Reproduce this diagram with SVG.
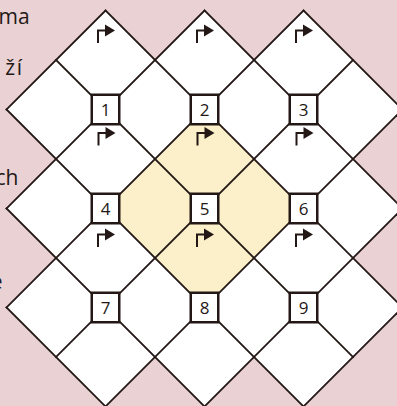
<svg xmlns="http://www.w3.org/2000/svg" width="397" height="406" viewBox="0 0 397 406">
<defs>
<style>
.ln{stroke:#231815;stroke-width:1.8;fill:none;stroke-linecap:square}
.box{fill:#ffffff;stroke:#231815;stroke-width:2.5}
.num{font-family:"Open Sans","Noto Sans",sans-serif;font-size:17px;fill:#231815;text-anchor:middle}
.side{font-family:"Open Sans","Noto Sans",sans-serif;font-size:21px;fill:#231815}
.stem{stroke:#231815;stroke-width:2;fill:none}
.tri{fill:#231815}
</style>
<g id="flag">
<path class="stem" d="M-7.5 12.5V0H1"/>
<polygon class="tri" points="-0.5,-6 -0.5,6 9.5,0"/>
</g>
</defs>
<rect x="0" y="0" width="397" height="406" fill="#ead2d4"/>
<g id="side-text">
<text class="side" x="-1.5" y="24">ma</text>
<text class="side" x="23.5" y="75" text-anchor="end" letter-spacing="1.5">ží</text>
<text class="side" x="18.5" y="185" text-anchor="end">ch</text>
<text class="side" x="2.5" y="289" text-anchor="end">e</text>
</g>
<g id="board">
<polygon fill="#ffffff" points="56,60 105.5,10.5 155,60 204.5,10.5 254,60 303.5,10.5 353,60 402.5,109.5 353,159 402.5,208.5 353,258 402.5,307.5 353,357 303.5,406.5 254,357 204.5,406.5 155,357 105.5,406.5 56,357 6.5,307.5 56,258 6.5,208.5 56,159 6.5,109.5"/>
<polygon id="highlight" fill="#fbf0c9" points="204.5,109.5 303.5,208.5 204.5,307.5 105.5,208.5"/>
</g>
<g id="connectors">
<line class="ln" x1="56" y1="60" x2="353" y2="357"/>
<line class="ln" x1="105.5" y1="10.5" x2="402.5" y2="307.5"/>
<line class="ln" x1="204.5" y1="10.5" x2="402.5" y2="208.5"/>
<line class="ln" x1="303.5" y1="10.5" x2="402.5" y2="109.5"/>
<line class="ln" x1="6.5" y1="109.5" x2="303.5" y2="406.5"/>
<line class="ln" x1="6.5" y1="208.5" x2="204.5" y2="406.5"/>
<line class="ln" x1="6.5" y1="307.5" x2="105.5" y2="406.5"/>
<line class="ln" x1="105.5" y1="10.5" x2="6.5" y2="109.5"/>
<line class="ln" x1="204.5" y1="10.5" x2="6.5" y2="208.5"/>
<line class="ln" x1="303.5" y1="10.5" x2="6.5" y2="307.5"/>
<line class="ln" x1="353" y1="60" x2="56" y2="357"/>
<line class="ln" x1="402.5" y1="109.5" x2="105.5" y2="406.5"/>
<line class="ln" x1="402.5" y1="208.5" x2="204.5" y2="406.5"/>
<line class="ln" x1="402.5" y1="307.5" x2="303.5" y2="406.5"/>
</g>
<g id="flags">
<use href="#flag" x="105.5" y="30.5"/>
<use href="#flag" x="204.5" y="30.5"/>
<use href="#flag" x="303.5" y="30.5"/>
<use href="#flag" x="106" y="133"/>
<use href="#flag" x="205" y="133"/>
<use href="#flag" x="304" y="133"/>
<use href="#flag" x="105.5" y="234.5"/>
<use href="#flag" x="204.5" y="234.5"/>
<use href="#flag" x="303.5" y="234.5"/>
</g>
<g id="node1"><rect class="box" x="91.75" y="94.75" width="27.5" height="29.5"/><text class="num" x="105.5" y="115.5">1</text></g>
<g id="node2"><rect class="box" x="190.75" y="94.75" width="27.5" height="29.5"/><text class="num" x="204.5" y="115.5">2</text></g>
<g id="node3"><rect class="box" x="289.75" y="94.75" width="27.5" height="29.5"/><text class="num" x="303.5" y="115.5">3</text></g>
<g id="node4"><rect class="box" x="91.75" y="193.75" width="27.5" height="29.5"/><text class="num" x="105.5" y="214.5">4</text></g>
<g id="node5"><rect class="box" x="190.75" y="193.75" width="27.5" height="29.5"/><text class="num" x="204.5" y="214.5">5</text></g>
<g id="node6"><rect class="box" x="289.75" y="193.75" width="27.5" height="29.5"/><text class="num" x="303.5" y="214.5">6</text></g>
<g id="node7"><rect class="box" x="91.75" y="292.75" width="27.5" height="29.5"/><text class="num" x="105.5" y="313.5">7</text></g>
<g id="node8"><rect class="box" x="190.75" y="292.75" width="27.5" height="29.5"/><text class="num" x="204.5" y="313.5">8</text></g>
<g id="node9"><rect class="box" x="289.75" y="292.75" width="27.5" height="29.5"/><text class="num" x="303.5" y="313.5">9</text></g>
</svg>
